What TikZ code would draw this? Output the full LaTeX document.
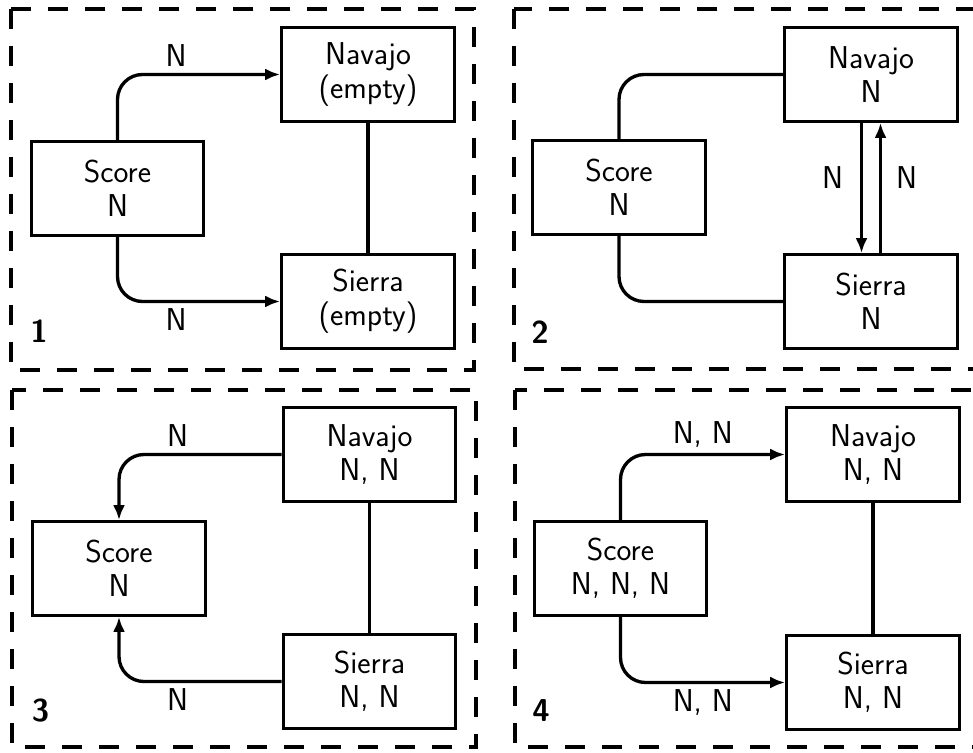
\documentclass[tikz,border=0pt]{standalone}
\usepackage{fontspec}
\usepackage{tikz}
\usetikzlibrary{arrows.meta}

\begin{document}
\begin{tikzpicture}[x=0.02cm,y=-0.02cm,line width=1.9pt,
  >={Latex[length=0.3cm,width=0.24cm]},
  every node/.style={font=\sffamily\fontsize{18}{19.5}\selectfont},
  tbl/.style={draw,align=center,minimum width=3.45cm,minimum height=1.87cm,inner sep=0pt},
  panel/.style={dash pattern=on 0.4cm off 0.34cm,line width=2.1pt},
  num/.style={font=\sffamily\bfseries\fontsize{18}{19.5}\selectfont}]
\useasboundingbox (0,0) rectangle (973,753);
\clip (0,0) rectangle (973,753);

% 1
\draw[panel] (11,9) rectangle (474,370);
\node[tbl] (s1) at (117.5,188.5) {Score\\N};
\node[tbl] (n1) at (368,74.5) {Navajo\\(empty)};
\node[tbl] (r1) at (368,301.5) {Sierra\\(empty)};
\node[num] (p1) at (39,331) {1};
\draw[->,rounded corners=0.5cm] (s1.north) |- (n1.west) node[pos=0.68,above] {N};
\draw[->,rounded corners=0.5cm] (s1.south) |- (r1.west) node[pos=0.68,below] {N};
\draw (n1) -- (r1);

% 2
\draw[panel] (514,9) rectangle (977,369);
\node[tbl] (s2) at (619,187.5) {Score\\N};
\node[tbl] (n2) at (871,74.5) {Navajo\\N};
\node[tbl] (r2) at (871,301.5) {Sierra\\N};
\node[num] (p2) at (540,332) {2};
\draw[rounded corners=0.5cm] (s2.north) |- (n2.west);
\draw[rounded corners=0.5cm] (s2.south) |- (r2.west);
\draw[->] ([xshift=-0.19cm]n2.south) -- ([xshift=-0.19cm]r2.north) node[pos=0.42,left=0.22cm] {N};
\draw[->] ([xshift=0.19cm]r2.north) -- ([xshift=0.19cm]n2.south) node[pos=0.58,right=0.16cm] {N};

% 3
\draw[panel] (12,390) rectangle (476,747);
\node[tbl] (s3) at (119,568.5) {Score\\N};
\node[tbl] (n3) at (369.5,454.5) {Navajo\\N, N};
\node[tbl] (r3) at (369.5,681.5) {Sierra\\N, N};
\node[num] (p3) at (40.5,711) {3};
\draw[->,rounded corners=0.5cm] (n3.west) -| (s3.north) node[pos=0.32,above] {N};
\draw[->,rounded corners=0.5cm] (r3.west) -| (s3.south) node[pos=0.32,below] {N};
\draw (n3) -- (r3);

% 4
\draw[panel] (515,390) rectangle (978,747);
\node[tbl] (s4) at (620.5,568.5) {Score\\N, N, N};
\node[tbl] (n4) at (873,454.5) {Navajo\\N, N};
\node[tbl] (r4) at (873,682.5) {Sierra\\N, N};
\node[num] (p4) at (541,711) {4};
\draw[->,rounded corners=0.5cm] (s4.north) |- (n4.west) node[pos=0.75,above] {N, N};
\draw[->,rounded corners=0.5cm] (s4.south) |- (r4.west) node[pos=0.75,below] {N, N};
\draw (n4) -- (r4);
\end{tikzpicture}
\end{document}
